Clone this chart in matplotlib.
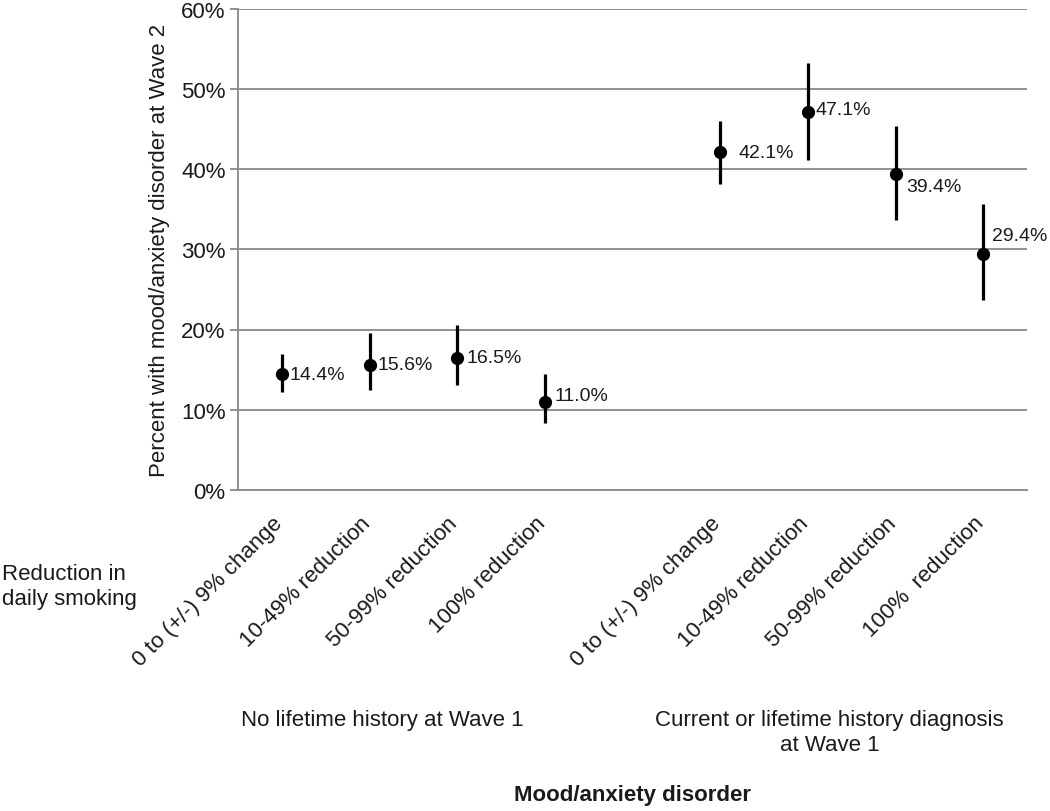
import matplotlib
matplotlib.use("Agg")
import matplotlib.pyplot as plt
import matplotlib.transforms as mtransforms
import numpy as np

plt.rcParams['font.family'] = ['Liberation Sans', 'DejaVu Sans']

# ---- data ----
group1_labels = ["0 to (+/-) 9% change", "10-49% reduction", "50-99% reduction", "100% reduction"]
group2_labels = ["0 to (+/-) 9% change", "10-49% reduction", "50-99% reduction", "100%  reduction"]
group_names = ["No lifetime history at Wave 1", "Current or lifetime history diagnosis\nat Wave 1"]

group1_values = [14.4, 15.6, 16.5, 11.0]
group1_lower = [12.2, 12.4, 13.1, 8.3]
group1_upper = [16.9, 19.6, 20.6, 14.4]

group2_values = [42.1, 47.1, 39.4, 29.4]
group2_lower = [38.1, 41.1, 33.7, 23.7]
group2_upper = [46.0, 53.2, 45.3, 35.7]

y_ticks = [0, 10, 20, 30, 40, 50, 60]

# ---- style (label offsets in pixels) ----
label_dx = [8, 8, 9, 10, 18, 8, 11, 9]
label_dy = [0, 0, 0, 6, 0, 3, -13, 19]

text_color = "#1a1a1a"
grid_color = "#888888"

fig = plt.figure(figsize=(10.5, 8.12), dpi=100)
ax = fig.add_axes([238 / 1050, 1 - 491 / 812, (1027 - 238) / 1050, (491 - 9.5) / 812])

n1 = len(group1_values)
x1 = np.arange(n1)
x2 = np.arange(n1 + 1, n1 + 1 + len(group2_values))
xs = np.concatenate([x1, x2])
vals = np.array(group1_values + group2_values)
lo = np.array(group1_lower + group2_lower)
hi = np.array(group1_upper + group2_upper)

ax.set_ylim(0, 60)
ax.set_xlim(-0.5, xs[-1] + 0.5)
ax.set_yticks(y_ticks)
ax.set_yticklabels([f"{t}%" for t in y_ticks], fontsize=16, color=text_color)
ax.yaxis.grid(True, color=grid_color, linewidth=1.3)
ax.set_axisbelow(True)

ax.errorbar(xs, vals, yerr=[vals - lo, hi - vals], fmt='o', color='black',
            ecolor='black', elinewidth=2.3, markersize=8.5, capsize=0, zorder=3)

for x, v, dx, dy in zip(xs, vals, label_dx, label_dy):
    ax.annotate(f"{v:.1f}%", (x, v), xytext=(dx * 0.72, dy * 0.72),
                textcoords='offset points', ha='left', va='center',
                fontsize=14, color=text_color)

all_ticks = list(x1) + [n1] + list(x2)
all_labels = group1_labels + [""] + group2_labels
ax.set_xticks(all_ticks)
ax.set_xticklabels(all_labels, rotation=45, ha='right', rotation_mode='anchor',
                   fontsize=16, color=text_color)
ax.tick_params(axis='x', length=0, pad=16)
ax.tick_params(axis='y', length=6, width=1.3, color=grid_color, pad=3)
offset = mtransforms.ScaledTranslation(-10 / 100, 0, fig.dpi_scale_trans)
for lbl in ax.get_xticklabels():
    lbl.set_transform(lbl.get_transform() + offset)

for s in ['top', 'right']:
    ax.spines[s].set_visible(False)
for s in ['left', 'bottom']:
    ax.spines[s].set_color(grid_color)
    ax.spines[s].set_linewidth(1.3)

ax.set_ylabel("")
fig.text(160 / 1050, 1 - 250 / 812, "Percent with mood/anxiety disorder at Wave 2",
         rotation=90, ha='center', va='center', fontsize=16, color=text_color)

fig.text(2 / 1050, 1 - 587 / 812, "Reduction in\ndaily smoking", ha='left', va='center',
         fontsize=16, color=text_color, linespacing=1.25)

blend = mtransforms.blended_transform_factory(ax.transData, fig.transFigure)
g1_center = x1.mean() - 0.35
g2_center = x2.mean() - 0.25
ax.text(g1_center, 1 - 710 / 812, group_names[0], transform=blend, ha='center', va='top',
        fontsize=16, color=text_color)
ax.text(g2_center, 1 - 710 / 812, group_names[1], transform=blend, ha='center', va='top',
        fontsize=16, color=text_color, multialignment='center', linespacing=1.25)

fig.text(632 / 1050, 1 - 796 / 812, "Mood/anxiety disorder", ha='center', va='center',
         fontsize=16, fontweight='bold', color=text_color)

fig.savefig("out.png", dpi=100)
